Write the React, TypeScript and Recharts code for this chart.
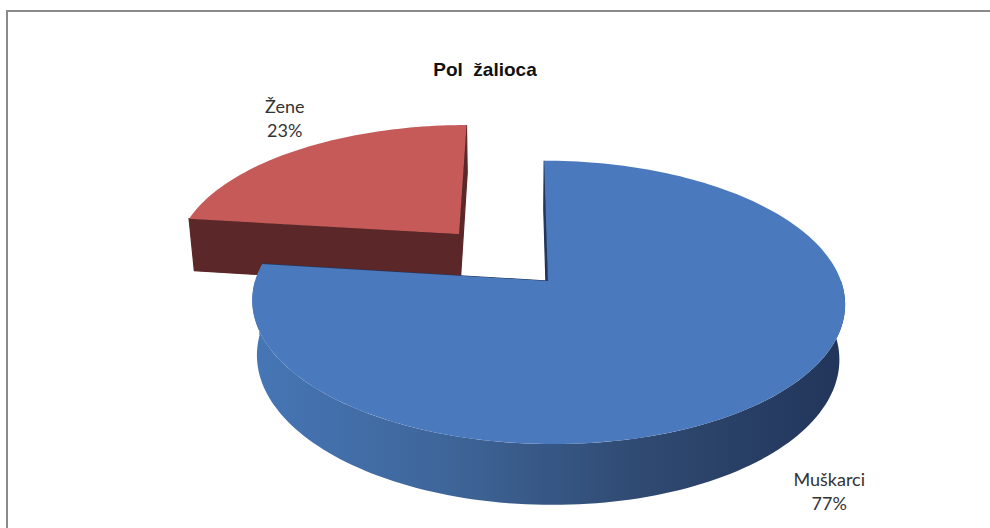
import React from 'react'
import { PieChart, Pie } from 'recharts'

// Pol žalioca – share of complainants by sex
const categories = ['Žene', 'Muškarci']
const shares = [23, 77]
const percentLabels = ['23%', '77%']

const topColors = ['#c55a59', '#4a79bd']
const cutColors = ['#5b2729', '#22365a']
const wallShades = [
  ['#9c4341', '#5b2729'],
  ['#4676b6', '#3e6599', '#2f4970', '#22355a'],
]
const explodeBy = [0.476, 0]
// where each label sits relative to the rim point at the slice's mid angle
const labelShift = [
  [-14, -31],
  [59, 94],
]

const data = categories.map((name, i) => ({ name, value: shares[i] }))
const total = shares.reduce((a, b) => a + b, 0)
// Žene ends at 12 o'clock, Muškarci runs clockwise from there
const START = 90 + (360 * shares[0]) / total

// simple perspective camera, lengths in units of the pie radius
const RAD = Math.PI / 180
const DIST = 5.84
const PITCH = 28.2 * RAD
const THICK = 0.215
const CAMX = -0.1 // camera a little left of the hub

function project(cx: number, cy: number, r: number, X: number, Y: number, Z: number) {
  const f = r * DIST
  const yc = Y * Math.cos(PITCH) + Z * Math.sin(PITCH)
  const zc = DIST + Z * Math.cos(PITCH) - Y * Math.sin(PITCH)
  return [cx + f * ((X - CAMX) / zc + CAMX / DIST), cy - (f * yc) / zc]
}

const toPath = (pts: number[][]) =>
  pts.map((p, i) => `${i ? 'L' : 'M'}${p[0].toFixed(2)},${p[1].toFixed(2)}`).join(' ') + ' Z'

function arcAngles(from: number, to: number) {
  const n = Math.max(2, Math.ceil(Math.abs(to - from) / 1.5))
  const out: number[] = []
  for (let i = 0; i <= n; i++) out.push(from + ((to - from) * i) / n)
  return out
}

function Slice3D(props: any) {
  const { cx, cy, outerRadius, startAngle, endAngle } = props
  const idx = Math.max(0, categories.indexOf(props.name ?? props.payload?.name))
  const e = explodeBy[idx]
  const mid = ((startAngle + endAngle) / 2) * RAD
  const ox = e * Math.cos(mid)
  const oz = e * Math.sin(mid)
  const pt = (a: number, y: number, k = 1) =>
    project(cx, cy, outerRadius, ox + k * Math.cos(a * RAD), y, oz + k * Math.sin(a * RAD))

  const hubTop = pt(0, 0, 0)
  const hubBot = pt(0, -THICK, 0)

  // outer wall, only where it faces the viewer (sin(a) < 0)
  const lo = Math.min(startAngle, endAngle)
  const hi = Math.max(startAngle, endAngle)
  const walls: string[] = []
  for (let k = -1; k <= 1; k++) {
    const a = Math.max(lo, -180 + 360 * k)
    const b = Math.min(hi, 360 * k)
    if (b - a > 0.01) {
      const angs = arcAngles(a, b)
      const top = angs.map((t) => pt(t, 0))
      const bot = angs.slice().reverse().map((t) => pt(t, -THICK))
      walls.push(toPath([...top, ...bot]))
    }
  }

  const cuts = [startAngle, endAngle].map((a) => toPath([hubTop, pt(a, 0), pt(a, -THICK), hubBot]))
  const topFace = toPath([hubTop, ...arcAngles(startAngle, endAngle).map((t) => pt(t, 0))])
  const gid = `wall-${idx}`
  const shades = wallShades[idx]

  return (
    <g>
      <defs>
        <linearGradient id={gid} x1="0" y1="0" x2="1" y2="0">
          {shades.map((c, i) => (
            <stop key={i} offset={`${(i / (shades.length - 1)) * 100}%`} stopColor={c} />
          ))}
        </linearGradient>
      </defs>
      {cuts.map((d, i) => (
        <path key={`c${i}`} d={d} fill={cutColors[idx]} stroke={cutColors[idx]} strokeWidth={1.2} />
      ))}
      {walls.map((d, i) => (
        <path key={`w${i}`} d={d} fill={`url(#${gid})`} />
      ))}
      <path d={topFace} fill={topColors[idx]} />
    </g>
  )
}

function SliceLabel(props: any) {
  const { cx, cy, outerRadius, midAngle, name } = props
  const idx = Math.max(0, categories.indexOf(name ?? props.payload?.name))
  const e = explodeBy[idx]
  const m = midAngle * RAD
  const [x, y] = project(cx, cy, outerRadius, (1 + e) * Math.cos(m), 0, (1 + e) * Math.sin(m))
  const lx = x + labelShift[idx][0]
  const ly = y + labelShift[idx][1]
  return (
    <text
      x={lx}
      y={ly}
      textAnchor="middle"
      fill="#333"
      fontFamily="Lato, 'Noto Sans', sans-serif"
      fontSize={18}
    >
      <tspan x={lx} dy={-6}>{categories[idx]}</tspan>
      <tspan x={lx} dy={24}>{percentLabels[idx]}</tspan>
    </text>
  )
}

export default function App() {
  return (
    <div style={{ position: 'absolute', left: 0, top: 0, width: 990, height: 528, overflow: 'hidden', background: '#fff' }}>
      <div
        style={{
          position: 'absolute',
          left: 6,
          top: 10,
          width: 1000,
          height: 540,
          borderTop: '2px solid #8a8a8a',
          borderLeft: '2px solid #8a8a8a',
        }}
      />
      <div
        style={{
          position: 'absolute',
          left: 385,
          top: 60,
          width: 200,
          textAlign: 'center',
          fontFamily: "'Liberation Sans', Arial, sans-serif",
          fontWeight: 'bold',
          fontSize: 19,
          lineHeight: '19px',
          color: '#111',
          whiteSpace: 'pre',
        }}
      >
        {'Pol  žalioca'}
      </div>
      <div style={{ position: 'absolute', left: 0, top: 0 }}>
        <PieChart width={990} height={528} margin={{ top: 0, right: 0, bottom: 0, left: 0 }}>
          <Pie
            data={data}
            dataKey="value"
            nameKey="name"
            cx={548}
            cy={281}
            outerRadius={293}
            startAngle={START}
            endAngle={START - 360}
            shape={Slice3D}
            activeShape={Slice3D}
            inactiveShape={Slice3D}
            label={SliceLabel}
            labelLine={false}
            isAnimationActive={false}
          />
        </PieChart>
      </div>
    </div>
  )
}
